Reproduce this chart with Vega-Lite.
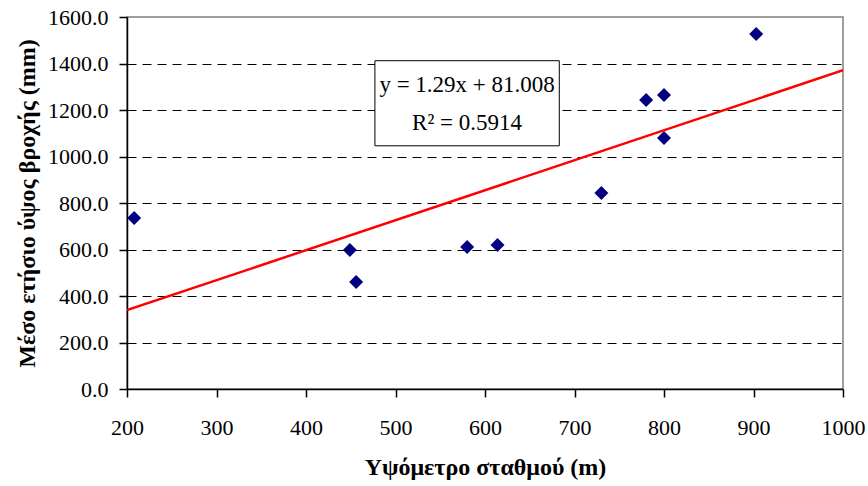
{
  "$schema": "https://vega.github.io/schema/vega-lite/v6.json",
  "width": 716,
  "height": 372,
  "autosize": "none",
  "padding": {"left": 127, "top": 17, "right": 25, "bottom": 97},
  "background": "white",
  "config": {
    "view": {"stroke": "#808080", "strokeWidth": 1.5},
    "font": "Liberation Serif"
  },
  "datasets": {
    "stations": [
      {"altitude": 208, "rain": 735},
      {"altitude": 449, "rain": 598},
      {"altitude": 456, "rain": 460},
      {"altitude": 580, "rain": 611},
      {"altitude": 614, "rain": 619},
      {"altitude": 730, "rain": 843},
      {"altitude": 780, "rain": 1243},
      {"altitude": 800, "rain": 1265},
      {"altitude": 800, "rain": 1080},
      {"altitude": 903, "rain": 1527}
    ],
    "trend": [
      {"altitude": 200, "rain": 339.0},
      {"altitude": 1000, "rain": 1371.0}
    ],
    "box": [
      {"x1": 477, "x2": 683, "y1": 1046, "y2": 1412}
    ],
    "label": [
      {"x": 580, "y": 1307, "text": "y = 1.29x + 81.008"},
      {"x": 580, "y": 1144, "text": "R² = 0.5914"}
    ]
  },
  "layer": [
    {
      "data": {"name": "stations"},
      "mark": {"type": "point", "shape": "diamond", "filled": true, "color": "#000080", "size": 196, "opacity": 1},
      "encoding": {
        "x": {
          "field": "altitude", "type": "quantitative",
          "scale": {"domain": [200, 1000], "nice": false, "zero": false},
          "axis": {
            "title": "Υψόμετρο σταθμού (m)",
            "values": [200, 300, 400, 500, 600, 700, 800, 900, 1000],
            "format": "d",
            "grid": false,
            "labelFlush": false,
            "domainColor": "black", "domainWidth": 1.5,
            "tickColor": "black", "tickWidth": 1.5, "tickSize": 8,
            "labelFont": "Liberation Serif", "labelFontSize": 22, "labelColor": "black",
            "labelPadding": 20,
            "titleFont": "Liberation Serif", "titleFontSize": 24, "titleFontWeight": "bold", "titleColor": "black",
            "titlePadding": 17
          }
        },
        "y": {
          "field": "rain", "type": "quantitative",
          "scale": {"domain": [0, 1600], "nice": false},
          "axis": {
            "title": "Μέσο ετήσιο ύψος βροχής (mm)",
            "values": [0, 200, 400, 600, 800, 1000, 1200, 1400, 1600],
            "format": ".1f",
            "grid": true,
            "labelFlush": false,
            "gridColor": "black", "gridDash": [9, 6], "gridWidth": 1,
            "gridOpacity": {"condition": {"test": "datum.value >= 1600 || datum.value <= 0", "value": 0}, "value": 1},
            "domainColor": "black", "domainWidth": 1.5,
            "tickColor": "black", "tickWidth": 1.5, "tickSize": 8,
            "labelFont": "Liberation Serif", "labelFontSize": 22, "labelColor": "black",
            "labelPadding": 11,
            "titleFont": "Liberation Serif", "titleFontSize": 24, "titleFontWeight": "bold", "titleColor": "black",
            "titlePadding": 8
          }
        }
      }
    },
    {
      "data": {"name": "trend"},
      "mark": {"type": "line", "color": "#FF0000", "strokeWidth": 2.5, "clip": true},
      "encoding": {
        "x": {"field": "altitude", "type": "quantitative"},
        "y": {"field": "rain", "type": "quantitative"}
      }
    },
    {
      "data": {"name": "box"},
      "mark": {"type": "rect", "fill": "white", "stroke": "black", "strokeWidth": 1},
      "encoding": {
        "x": {"field": "x1", "type": "quantitative"},
        "x2": {"field": "x2"},
        "y": {"field": "y1", "type": "quantitative"},
        "y2": {"field": "y2"}
      }
    },
    {
      "data": {"name": "label"},
      "mark": {"type": "text", "font": "Liberation Serif", "fontSize": 23, "color": "black", "align": "center", "baseline": "middle"},
      "encoding": {
        "x": {"field": "x", "type": "quantitative"},
        "y": {"field": "y", "type": "quantitative"},
        "text": {"field": "text"}
      }
    }
  ]
}
